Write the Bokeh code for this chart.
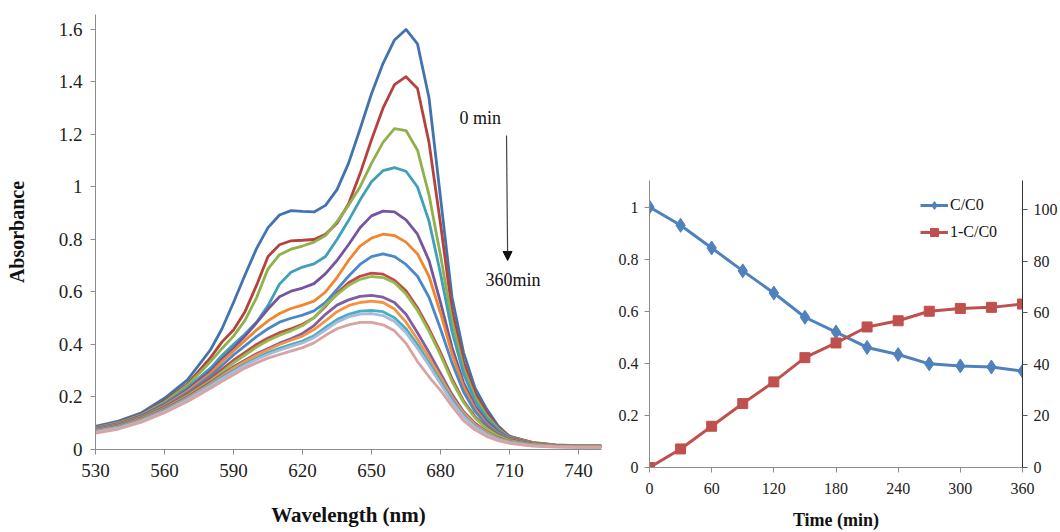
from bokeh.plotting import figure
from bokeh.layouts import row, column
from bokeh.models import Range1d, LinearAxis, FixedTicker, Arrow, NormalHead, Label, Legend, LegendItem
from bokeh.embed import file_html
from bokeh.resources import INLINE

# ---------------- data: UV-vis spectra ----------------
wavelength = [530, 540, 550, 560, 570, 580, 585, 590, 595, 600, 605, 610, 615, 620, 625, 630, 635,
              640, 645, 650, 655, 660, 665, 670, 675, 680, 685, 690, 695, 700, 705, 710, 720, 730, 740, 750]

abs_s01 = [.088, .108, .140, .195, .265, .380, .460, .560, .665, .765, .845, .893, .910, .907, .905, .930, .990,
           1.09, 1.22, 1.355, 1.47, 1.56, 1.60, 1.545, 1.34, .960, .580, .370, .235, .155, .090, .050, .025, .017, .014, .013]
abs_s02 = [.085, .104, .135, .185, .250, .350, .410, .455, .525, .625, .735, .780, .795, .797, .800, .820, .862,
           .935, 1.05, 1.18, 1.30, 1.39, 1.42, 1.375, 1.17, .860, .530, .335, .215, .140, .085, .050, .027, .018, .015, .015]
abs_s03 = [.083, .102, .132, .180, .245, .335, .385, .432, .492, .578, .688, .742, .763, .775, .790, .815, .868,
           .930, 1.00, 1.09, 1.17, 1.222, 1.215, 1.14, .970, .740, .490, .310, .200, .130, .080, .047, .025, .017, .014, .014]
abs_s04 = [.082, .100, .130, .175, .235, .310, .358, .400, .440, .485, .548, .630, .675, .695, .707, .735, .800,
           .872, .950, 1.02, 1.062, 1.074, 1.06, 1.00, .870, .670, .450, .290, .185, .120, .075, .045, .024, .016, .013, .013]
abs_s05 = [.080, .098, .127, .170, .228, .300, .345, .387, .432, .482, .535, .582, .603, .615, .632, .670, .720,
           .780, .845, .890, .908, .905, .875, .820, .720, .560, .390, .255, .165, .108, .068, .042, .023, .015, .012, .012]
abs_s06 = [.078, .096, .124, .167, .222, .290, .335, .375, .415, .455, .490, .518, .537, .550, .565, .600, .655,
           .720, .775, .805, .820, .815, .790, .745, .660, .520, .365, .240, .155, .100, .063, .040, .022, .015, .012, .012]
abs_s07 = [.077, .094, .122, .163, .216, .280, .320, .360, .395, .430, .460, .485, .500, .512, .528, .560, .610,
           .660, .705, .735, .745, .735, .705, .660, .580, .460, .330, .220, .145, .095, .060, .038, .021, .014, .011, .011]
abs_s08 = [.076, .092, .120, .160, .210, .270, .305, .340, .370, .400, .425, .445, .460, .477, .502, .545, .595,
           .635, .660, .672, .668, .645, .605, .540, .460, .370, .270, .185, .125, .085, .055, .036, .020, .014, .012, .012]
abs_s09 = [.074, .090, .118, .157, .205, .262, .295, .330, .360, .390, .415, .435, .452, .472, .502, .550, .590,
           .625, .648, .659, .655, .635, .592, .530, .450, .360, .260, .180, .120, .080, .052, .034, .019, .013, .011, .011]
abs_s10 = [.072, .088, .115, .153, .200, .255, .285, .315, .340, .365, .385, .405, .422, .442, .472, .515, .550,
           .570, .583, .587, .580, .560, .515, .445, .370, .290, .210, .145, .100, .068, .045, .030, .017, .012, .010, .010]
abs_s11 = [.070, .086, .113, .150, .196, .250, .280, .310, .335, .360, .380, .400, .416, .432, .457, .490, .525,
           .548, .560, .565, .560, .535, .485, .420, .350, .275, .200, .140, .095, .065, .043, .029, .017, .012, .010, .010]
abs_s12 = [.068, .084, .110, .147, .192, .245, .275, .300, .325, .348, .368, .385, .400, .413, .433, .465, .495,
           .515, .527, .530, .525, .502, .460, .400, .330, .260, .190, .130, .088, .060, .040, .027, .016, .011, .009, .009]
abs_s13 = [.066, .082, .108, .145, .190, .242, .270, .295, .320, .343, .362, .378, .393, .406, .426, .455, .485,
           .505, .516, .518, .510, .488, .445, .385, .320, .250, .180, .125, .085, .057, .038, .026, .015, .011, .009, .009]
abs_s14 = [.062, .078, .104, .140, .183, .233, .260, .285, .310, .330, .348, .362, .375, .388, .406, .435, .460,
           .475, .484, .484, .475, .452, .405, .335, .277, .225, .165, .110, .075, .050, .034, .023, .013, .009, .008, .008]

spectra = [abs_s01, abs_s02, abs_s03, abs_s04, abs_s05, abs_s06, abs_s07,
           abs_s08, abs_s09, abs_s10, abs_s11, abs_s12, abs_s13, abs_s14]
spectra_colors = ["#4373AE", "#B5423E", "#8FB04B", "#3FA0B8", "#7455A0", "#F0872E", "#4A88CC",
                  "#C44A47", "#93BB4E", "#7E5FA6", "#F7923E", "#4BACC6", "#A5BDDA", "#D8A3A2"]

wl_ticks = [530, 560, 590, 620, 650, 680, 710, 740]
abs_ticks = [0, 0.2, 0.4, 0.6, 0.8, 1.0, 1.2, 1.4, 1.6]
abs_tick_labels = ["0", "0.2", "0.4", "0.6", "0.8", "1", "1.2", "1.4", "1.6"]

# ---------------- data: kinetics ----------------
time_min = [0, 30, 60, 90, 120, 150, 180, 210, 240, 270, 300, 330, 360]
c_over_c0 = [1.0, 0.930, 0.843, 0.755, 0.670, 0.577, 0.520, 0.461, 0.434, 0.398, 0.390, 0.386, 0.370]
removal_pct = [0.0, 7.2, 16.0, 24.8, 33.2, 42.6, 48.3, 54.5, 56.9, 60.6, 61.7, 62.1, 63.4]

time_ticks = [0, 60, 120, 180, 240, 300, 360]
ratio_ticks = [0, 0.2, 0.4, 0.6, 0.8, 1.0]
ratio_tick_labels = ["0", "0.2", "0.4", "0.6", "0.8", "1"]
pct_ticks = [0, 20, 40, 60, 80, 100]

FONT = "Liberation Serif"
AXIS_GREY = "#8C8C8C"


def style_axis(ax, size):
    ax.axis_line_color = AXIS_GREY
    ax.major_tick_line_color = AXIS_GREY
    ax.minor_tick_line_color = None
    ax.major_tick_in = 0
    ax.major_tick_out = 5
    ax.major_label_text_font = FONT
    ax.major_label_text_font_size = size
    ax.major_label_text_color = "#222222"
    ax.axis_label_text_font = FONT
    ax.axis_label_text_font_style = "bold"
    ax.axis_label_text_color = "#111111"


# ---------------- left: spectra ----------------
p1 = figure(width=612, height=532, output_backend="svg", toolbar_location=None,
            x_range=Range1d(530, 750), y_range=Range1d(0, 1.657),
            min_border_left=95, min_border_right=11, min_border_top=14, min_border_bottom=83)
p1.outline_line_color = None
p1.grid.visible = False

for ys, col in zip(spectra, spectra_colors):
    p1.line(wavelength, ys, line_color=col, line_width=2.8, line_join="round")

p1.xaxis.ticker = FixedTicker(ticks=wl_ticks)
p1.yaxis.ticker = FixedTicker(ticks=abs_ticks)
p1.yaxis.major_label_overrides = {t: s for t, s in zip(abs_ticks, abs_tick_labels)}
style_axis(p1.xaxis[0], "19px")
style_axis(p1.yaxis[0], "19px")
p1.xaxis.axis_label = "Wavelength (nm)"
p1.yaxis.axis_label = "Absorbance"
p1.xaxis.axis_label_text_font_size = "21px"
p1.yaxis.axis_label_text_font_size = "20px"
p1.xaxis.major_label_standoff = 9
p1.yaxis.major_label_standoff = 8
p1.xaxis.axis_label_standoff = 23
p1.yaxis.axis_label_standoff = 28

p1.add_layout(Arrow(end=NormalHead(size=9, fill_color="#111111", line_color="#111111"),
                    x_start=708.7, y_start=1.196, x_end=709.2, y_end=0.72,
                    line_color="#444444", line_width=1.2))
p1.add_layout(Label(x=688.3, y=1.261, text="0 min", text_font=FONT, text_font_size="18px",
                    text_baseline="middle", text_color="#111111"))
p1.add_layout(Label(x=699.6, y=0.644, text="360min", text_font=FONT, text_font_size="18px",
                    text_baseline="middle", text_color="#111111"))

# ---------------- right: kinetics ----------------
p2 = figure(width=448, height=532, output_backend="svg", toolbar_location=None,
            x_range=Range1d(0, 360), y_range=Range1d(0, 1.102),
            min_border_left=37, min_border_right=34, min_border_top=180, min_border_bottom=64)
p2.outline_line_color = None
p2.grid.visible = False
p2.extra_y_ranges = {"pct": Range1d(0, 111.3)}

l1 = p2.line(time_min, c_over_c0, line_color="#4F81BD", line_width=3)
m1 = p2.scatter(time_min, c_over_c0, marker="diamond", size=14, fill_color="#4F81BD", line_color="#4F81BD")
l2 = p2.line(time_min, removal_pct, line_color="#C0504D", line_width=3, y_range_name="pct")
m2 = p2.scatter(time_min, removal_pct, marker="square", size=10, fill_color="#C0504D", line_color="#C0504D",
                y_range_name="pct")

p2.xaxis.ticker = FixedTicker(ticks=time_ticks)
p2.yaxis.ticker = FixedTicker(ticks=ratio_ticks)
p2.yaxis.major_label_overrides = {t: s for t, s in zip(ratio_ticks, ratio_tick_labels)}
style_axis(p2.xaxis[0], "16px")
style_axis(p2.yaxis[0], "16px")
p2.xaxis.axis_label = "Time (min)"
p2.xaxis.axis_label_text_font_size = "18px"
p2.xaxis.major_label_standoff = 10
p2.xaxis.axis_label_standoff = 13
p2.yaxis.major_label_standoff = 6

ax_r = LinearAxis(y_range_name="pct", ticker=FixedTicker(ticks=pct_ticks))
style_axis(ax_r, "16px")
ax_r.axis_line_color = "#333333"
ax_r.major_tick_line_color = "#555555"
ax_r.major_label_standoff = 6
p2.add_layout(ax_r, "right")

legend = Legend(items=[LegendItem(label="C/C0", renderers=[l1, m1]),
                       LegendItem(label="1-C/C0", renderers=[l2, m2])],
                location=(271, 225), border_line_color=None, background_fill_alpha=0,
                label_text_font=FONT, label_text_font_size="16px", label_text_color="#111111",
                glyph_width=28, glyph_height=20, spacing=7, padding=4, label_standoff=2)
p2.add_layout(legend)

layout = row(column(p1), column(p2))
open("out.html", "w").write(file_html(layout, INLINE))
